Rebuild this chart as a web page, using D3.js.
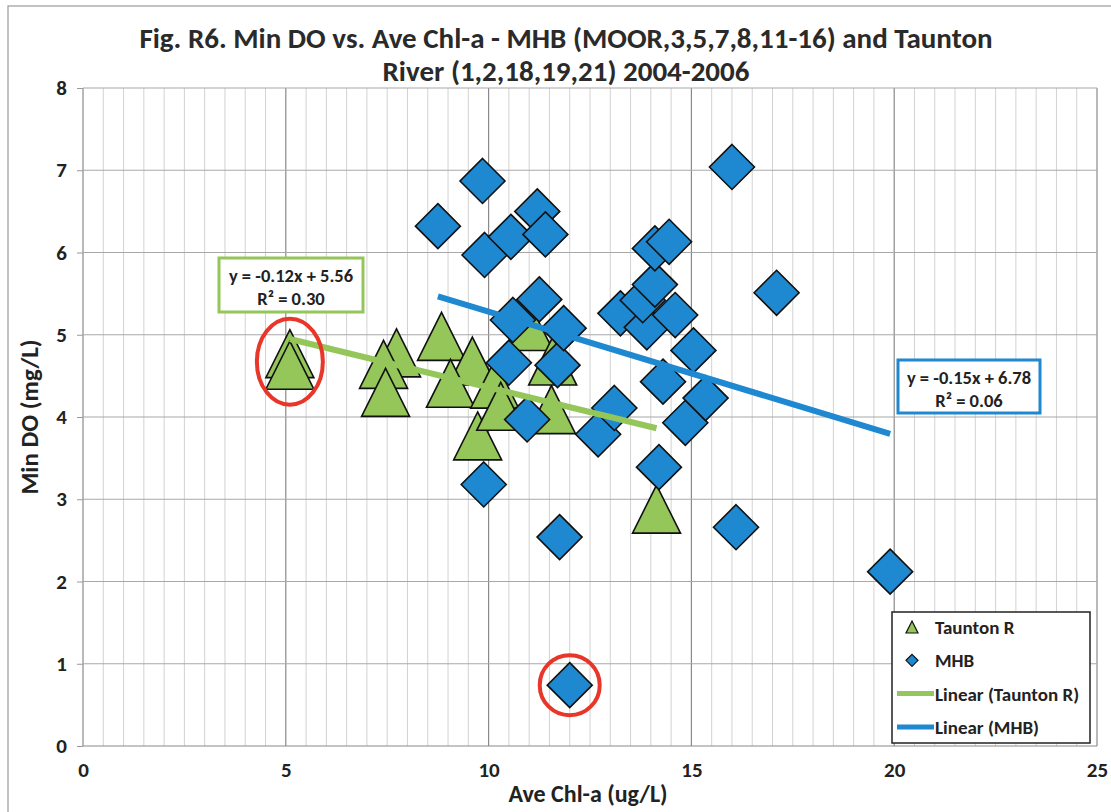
<!DOCTYPE html>
<html>
<head>
<meta charset="utf-8">
<script src="https://cdn.jsdelivr.net/npm/d3@7"></script>
<style>
  body { margin: 0; background: #fff; }
  svg { font-family: Carlito, Lato, "Open Sans", sans-serif; font-weight: bold; }
</style>
</head>
<body>
<svg id="chart" width="1111" height="812"></svg>
<script>
// Taunton River stations: Ave Chl-a (ug/L) vs Min DO (mg/L)
const tauntonX = [5.1, 5.1, 7.73, 7.41, 7.46, 8.84, 9.6, 9.06, 9.73, 10.15, 10.3, 11.55, 11.0, 11.58, 14.14];
const tauntonY = [4.77, 4.63, 4.78, 4.64, 4.30, 4.98, 4.68, 4.41, 3.77, 4.40, 4.13, 4.09, 5.10, 4.68, 2.88];

// MHB stations
const mhbX = [12.0, 19.9, 16.1, 11.75, 9.88, 14.2, 12.7, 13.1, 10.95, 14.85, 15.35, 14.3, 15.05, 10.5, 11.7,
              10.6, 11.25, 11.85, 13.25, 13.9, 14.6, 13.8, 14.1, 14.1, 14.45, 17.1, 9.9, 10.55, 11.2, 11.4, 8.75, 9.85, 16.0];
const mhbY = [0.74, 2.12, 2.66, 2.54, 3.18, 3.39, 3.79, 4.11, 3.97, 3.93, 4.23, 4.43, 4.81, 4.66, 4.63,
              5.18, 5.43, 5.08, 5.26, 5.09, 5.24, 5.42, 5.61, 6.05, 6.13, 5.51, 5.97, 6.19, 6.50, 6.22, 6.32, 6.87, 7.04];

// linear trend lines as printed on the chart
const trendNames = ["Taunton R", "MHB"];
const trendSlope = [-0.12, -0.15];
const trendIntercept = [5.56, 6.78];
const trendR2 = ["0.30", "0.06"];

// circled points (series, index)
const circled = [["Taunton R", 0], ["MHB", 0]];

const xTicks = [0, 5, 10, 15, 20, 25];
const yTicks = [0, 1, 2, 3, 4, 5, 6, 7, 8];

const green = "#94c659", blue = "#1e88d0";

var svg = d3.select("#chart");
var x = d3.scaleLinear().domain([0, 25]).range([83, 1097]);
var y = d3.scaleLinear().domain([0, 8]).range([746, 88]);

// scan frame
svg.append("rect").attr("x", 8).attr("y", 6).attr("width", 1130).attr("height", 830)
  .attr("fill", "none").attr("stroke", "#9a9a9a").attr("stroke-width", 1.2);

// title
var title = svg.append("text").attr("x", 566).attr("text-anchor", "middle")
  .style("font-size", "29px").attr("fill", "#2a2a2a");
title.append("tspan").attr("x", 566).attr("y", 48).text("Fig. R6. Min DO vs. Ave Chl-a - MHB (MOOR,3,5,7,8,11-16) and Taunton");
title.append("tspan").attr("x", 566).attr("y", 81).text("River (1,2,18,19,21) 2004-2006");

// grid
var grid = svg.append("g");
grid.selectAll("line.minor").data(d3.range(0, 25.01, 0.5)).enter().append("line")
  .attr("x1", d => x(d)).attr("x2", d => x(d)).attr("y1", y(8)).attr("y2", y(0))
  .attr("stroke", d => d % 5 === 0 ? "#8a8a8a" : "#d2d2d2")
  .attr("stroke-width", d => d % 5 === 0 ? 1.2 : 1);
grid.selectAll("line.h").data(yTicks).enter().append("line")
  .attr("x1", x(0)).attr("x2", x(25)).attr("y1", d => y(d)).attr("y2", d => y(d))
  .attr("stroke", d => d === 0 ? "#8a8a8a" : "#a8a8a8").attr("stroke-width", 1.2);

// axes
var yAxis = svg.append("g").attr("transform", "translate(" + x(0) + ",0)")
  .call(d3.axisLeft(y).tickValues(yTicks).tickSize(6).tickPadding(10));
var xAxis = svg.append("g").attr("transform", "translate(0," + y(0) + ")")
  .call(d3.axisBottom(x).tickValues(xTicks).tickSize(0).tickPadding(16));
[yAxis, xAxis].forEach(function(a) {
  a.select(".domain").remove();
  a.selectAll(".tick line").attr("stroke", "#999");
  a.selectAll("text").style("font-size", "21px").style("font-family", "Carlito, Lato, sans-serif")
    .style("font-weight", "bold").attr("fill", "#222");
});

svg.append("text").attr("transform", "translate(38,417) rotate(-90)").attr("text-anchor", "middle")
  .style("font-size", "25px").attr("fill", "#222").text("Min DO (mg/L)");
svg.append("text").attr("x", 588).attr("y", 802).attr("text-anchor", "middle")
  .style("font-size", "24px").attr("fill", "#222").text("Ave Chl-a (ug/L)");

// markers
var tauntonData = tauntonX.map((v, i) => ({x: v, y: tauntonY[i]}));
var mhbData = mhbX.map((v, i) => ({x: v, y: mhbY[i]}));

svg.append("g").selectAll("path").data(tauntonData).enter().append("path")
  .attr("d", "M0,-24L24,24L-24,24Z")
  .attr("transform", d => "translate(" + x(d.x) + "," + y(d.y) + ")")
  .attr("fill", green).attr("stroke", "#111").attr("stroke-width", 1.6);

svg.append("g").selectAll("path").data(mhbData).enter().append("path")
  .attr("d", "M0,-22.5L22.5,0L0,22.5L-22.5,0Z")
  .attr("transform", d => "translate(" + x(d.x) + "," + y(d.y) + ")")
  .attr("fill", blue).attr("stroke", "#111").attr("stroke-width", 1.6);

// trend lines
var seriesX = {"Taunton R": tauntonX, "MHB": mhbX};
var seriesY = {"Taunton R": tauntonY, "MHB": mhbY};
var trendColor = [green, blue];
trendNames.forEach(function(name, i) {
  var ext = d3.extent(seriesX[name]);
  svg.append("line")
    .attr("x1", x(ext[0])).attr("y1", y(trendSlope[i] * ext[0] + trendIntercept[i]))
    .attr("x2", x(ext[1])).attr("y2", y(trendSlope[i] * ext[1] + trendIntercept[i]))
    .attr("stroke", trendColor[i]).attr("stroke-width", 6);
});

// red circles
circled.forEach(function(c, i) {
  var cx = x(seriesX[c[0]][c[1]]), cy = y(seriesY[c[0]][c[1]]);
  svg.append("ellipse").attr("cx", cx).attr("cy", cy + (i === 0 ? 8 : 0))
    .attr("rx", i === 0 ? 33 : 30).attr("ry", i === 0 ? 43 : 30)
    .attr("fill", "none").attr("stroke", "#e8372a").attr("stroke-width", 4);
});

// equation boxes
var boxPos = [[219, 258, 144, 54], [898, 360, 142, 53]];
trendNames.forEach(function(name, i) {
  var b = boxPos[i];
  svg.append("rect").attr("x", b[0]).attr("y", b[1]).attr("width", b[2]).attr("height", b[3])
    .attr("fill", "#fff").attr("stroke", trendColor[i]).attr("stroke-width", 3);
  var sign = trendIntercept[i] < 0 ? " - " : " + ";
  svg.append("text").attr("x", b[0] + b[2] / 2).attr("y", b[1] + 24).attr("text-anchor", "middle")
    .style("font-size", "18.5px").attr("fill", "#222")
    .text("y = " + trendSlope[i].toFixed(2) + "x" + sign + Math.abs(trendIntercept[i]).toFixed(2));
  svg.append("text").attr("x", b[0] + b[2] / 2).attr("y", b[1] + 47).attr("text-anchor", "middle")
    .style("font-size", "18.5px").attr("fill", "#222")
    .text("R² = " + trendR2[i]);
});

// legend
var lg = svg.append("g").attr("transform", "translate(892,612)");
lg.append("rect").attr("width", 198).attr("height", 131).attr("fill", "#fff")
  .attr("stroke", "#222").attr("stroke-width", 1.5);
var legendItems = [
  {label: "Taunton R", kind: "tri"},
  {label: "MHB", kind: "dia"},
  {label: "Linear (Taunton R)", kind: "line", color: green},
  {label: "Linear (MHB)", kind: "line", color: blue}
];
legendItems.forEach(function(it, i) {
  var cy = 15 + i * 33.3;
  if (it.kind === "tri") {
    lg.append("path").attr("d", "M0,-6L6,6L-6,6Z").attr("transform", "translate(20," + cy + ")")
      .attr("fill", green).attr("stroke", "#111").attr("stroke-width", 1.2);
  } else if (it.kind === "dia") {
    lg.append("path").attr("d", "M0,-6L6,0L0,6L-6,0Z").attr("transform", "translate(20," + cy + ")")
      .attr("fill", blue).attr("stroke", "#111").attr("stroke-width", 1.2);
  } else {
    lg.append("line").attr("x1", 5).attr("x2", 42).attr("y1", cy).attr("y2", cy)
      .attr("stroke", it.color).attr("stroke-width", 5);
  }
  lg.append("text").attr("x", 43).attr("y", cy + 7).style("font-size", "19px").attr("fill", "#222")
    .text(it.label);
});
</script>
</body>
</html>
